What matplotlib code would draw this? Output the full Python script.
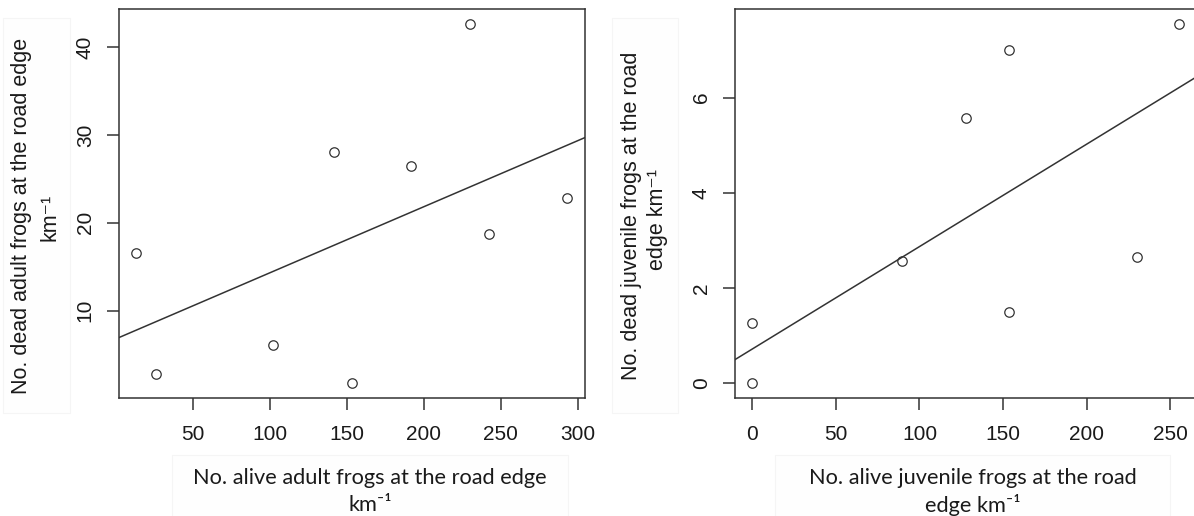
import matplotlib
matplotlib.use("Agg")
import matplotlib.pyplot as plt
from matplotlib.patches import Rectangle

plt.rcParams["font.family"] = ["Liberation Sans", "DejaVu Sans"]

W, H = 1194, 516

# adult frogs per km: alive vs dead at the road edge, with the fitted line
adult_alive = [13.3, 26.3, 102.3, 141.5, 153.5, 191.5, 229.8, 242.5, 293.3]
adult_dead = [16.6, 2.8, 6.1, 28.1, 1.7, 26.5, 42.7, 18.7, 22.8]
adult_fit = (6.77, 0.0753)  # intercept, slope
adult_xticks = [50, 100, 150, 200, 250, 300]
adult_yticks = [10, 20, 30, 40]

# juvenile frogs per km
juv_alive = [0, 0, 89.4, 127.6, 153.4, 153.4, 230.1, 255.4]
juv_dead = [0, 1.26, 2.56, 5.56, 7.0, 1.49, 2.66, 7.55]
juv_fit = (0.72, 0.0215)
juv_xticks = [0, 50, 100, 150, 200, 250]
juv_yticks = [0, 2, 4, 6]

INK = "#333333"
TXT = "#1a1a1a"
LABEL_FONT = ["Lato", "DejaVu Sans"]


def fx(px):
    return px / W


def fy(py):
    return 1 - py / H


def padded(vals, f=0.04):
    lo, hi = min(vals), max(vals)
    r = hi - lo
    return lo - f * r, hi + f * r


def panel(fig, left, right, x, y, fit, xticks, yticks):
    top, bottom = 9.3, 397.7
    ax = fig.add_axes([fx(left), fy(bottom), fx(right) - fx(left), (bottom - top) / H])
    ax.plot(x, y, "o", mfc="none", mec=INK, ms=6.8, mew=0.9)
    ax.axline((0, fit[0]), slope=fit[1], color=INK, lw=1.1)
    ax.set_xlim(*padded(x))
    ax.set_ylim(*padded(y))
    ax.set_xticks(xticks)
    ax.set_yticks(yticks)
    for s in ax.spines.values():
        s.set_color(INK)
        s.set_linewidth(1.1)
    ax.tick_params(length=8.6, width=1.1, color=INK, labelsize=15, labelcolor=TXT)
    ax.tick_params(axis="x", pad=11)
    ax.tick_params(axis="y", pad=9)
    plt.setp(ax.get_yticklabels(), rotation=90, va="center")
    return ax


def label_box(fig, x0, y0, x1, y1):
    fig.add_artist(Rectangle((fx(x0), fy(y1)), fx(x1) - fx(x0), (y1 - y0) / H,
                             transform=fig.transFigure, facecolor="#fefefe",
                             edgecolor="#f5f5f5", lw=0.8, zorder=0))


fig = plt.figure(figsize=(W / 100, H / 100), dpi=100)

# faint backgrounds behind the axis titles
label_box(fig, 3, 18, 70, 413)
label_box(fig, 172, 455, 568, 520)
label_box(fig, 612, 18, 678, 413)
label_box(fig, 775, 455, 1170, 520)

panel(fig, 119.2, 584.6, adult_alive, adult_dead, adult_fit, adult_xticks, adult_yticks)
panel(fig, 735.2, 1196.3, juv_alive, juv_dead, juv_fit, juv_xticks, juv_yticks)

ykw = dict(rotation=90, ha="center", va="center", fontsize=15.5, color=TXT)
fig.text(fx(22), fy(216), "No. dead adult frogs at the road edge", **ykw)
fig.text(fx(50), fy(217), "km\u207b\u00b9", **ykw)
fig.text(fx(632), fy(216), "No. dead juvenile frogs at the road", **ykw)
fig.text(fx(657), fy(219), "edge km\u207b\u00b9", **ykw)

xkw = dict(ha="center", va="center", fontsize=15.7, color=TXT, family=LABEL_FONT)
fig.text(fx(370), fy(478), "No. alive adult frogs at the road edge", **xkw)
fig.text(fx(370), fy(505), "km\u207b\u00b9", **xkw)
fig.text(fx(973), fy(478), "No. alive juvenile frogs at the road", **xkw)
fig.text(fx(973), fy(505), "edge km\u207b\u00b9", **xkw)

fig.savefig("out.png", dpi=100)
